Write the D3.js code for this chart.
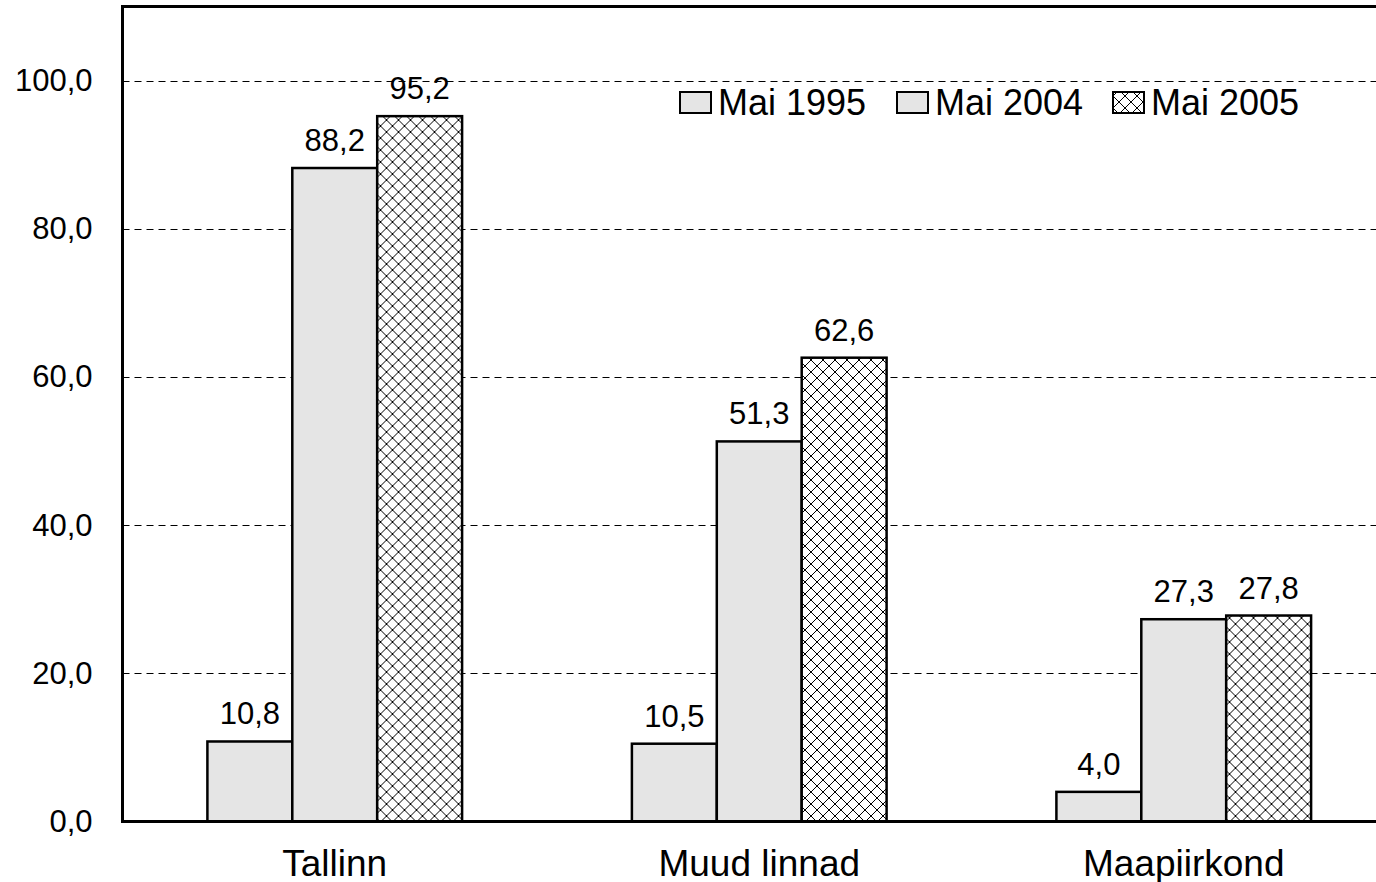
<!DOCTYPE html>
<html lang="et">
<head>
<meta charset="UTF-8">
<title>Mai 1995 / 2004 / 2005</title>
<script src="https://d3js.org/d3.v7.min.js"></script>
<style>
  html, body { margin: 0; padding: 0; background: #fff; overflow: hidden; }
  svg { display: block; font-family: Arial, "Liberation Sans", sans-serif; }
  .grid line { stroke: #000; stroke-width: 1; stroke-dasharray: 7 5; }
  .bar { stroke: #000; stroke-width: 2.5; }
  .frame { stroke: #000; stroke-width: 3; fill: none; }
</style>
</head>
<body>
<svg id="chart" width="1376" height="882"></svg>
<script>
// --- data ---
const categories = ["Tallinn", "Muud linnad", "Maapiirkond"];
const series = ["Mai 1995", "Mai 2004", "Mai 2005"];
const values1995 = [10.8, 10.5, 4.0];
const values2004 = [88.2, 51.3, 27.3];
const values2005 = [95.2, 62.6, 27.8];
const yTicks = [0, 20, 40, 60, 80, 100];

const seriesValues = [values1995, values2004, values2005];
const rows = categories.map((c, i) => ({
  cat: c,
  vals: series.map((s, j) => ({ key: s, idx: j, value: seriesValues[j][i] }))
}));

// --- layout ---
const W = 1376, H = 882;
const plotLeft = 122.5, plotRight = 1396, plotTop = 6.5, plotBottom = 821.5;

const svg = d3.select("#chart");
const defs = svg.append("defs");

// crosshatch for Mai 2005
const pat = defs.append("pattern")
  .attr("id", "hatch")
  .attr("patternUnits", "userSpaceOnUse")
  .attr("width", 12).attr("height", 12);
pat.append("rect").attr("width", 12).attr("height", 12).attr("fill", "#fff");
pat.append("path")
  .attr("d", "M0,0L12,12M12,0L0,12")
  .attr("stroke", "#000").attr("stroke-width", 1);

const fills = ["#e5e5e5", "#e5e5e5", "url(#hatch)"];

const x0 = d3.scaleBand().domain(categories).range([plotLeft, plotRight]);
const x1 = d3.scaleBand().domain(series).range([0, x0.bandwidth()])
  .paddingInner(0).paddingOuter(1);
const y = d3.scaleLinear().domain([0, 110]).range([plotBottom, plotTop]);

const fmt = d => d3.format(".1f")(d).replace(".", ",");

// gridlines
svg.append("g").attr("class", "grid")
  .selectAll("line")
  .data(yTicks.filter(t => t > 0))
  .join("line")
  .attr("x1", plotLeft).attr("x2", W)
  .attr("y1", d => Math.round(y(d)) + 0.5)
  .attr("y2", d => Math.round(y(d)) + 0.5);

// bars
const groups = svg.append("g").selectAll("g")
  .data(rows)
  .join("g")
  .attr("transform", d => `translate(${x0(d.cat)},0)`);

groups.selectAll("rect")
  .data(d => d.vals)
  .join("rect")
  .attr("class", "bar")
  .attr("x", d => x1(d.key))
  .attr("width", x1.bandwidth())
  .attr("y", d => y(d.value))
  .attr("height", d => y(0) - y(d.value))
  .attr("fill", d => fills[d.idx]);

groups.selectAll("text")
  .data(d => d.vals)
  .join("text")
  .attr("x", d => x1(d.key) + x1.bandwidth() / 2)
  .attr("y", d => y(d.value) - 17)
  .attr("text-anchor", "middle")
  .attr("font-size", 31)
  .text(d => fmt(d.value));

// frame (top, left, bottom)
svg.append("path").attr("class", "frame")
  .attr("d", `M${plotRight},${plotTop}H${plotLeft}V${plotBottom}H${plotRight}`);

// y axis labels
const yAxis = d3.axisLeft(y).tickValues(yTicks).tickSize(0).tickPadding(30)
  .tickFormat(fmt);
const ya = svg.append("g").attr("transform", `translate(${plotLeft},0)`).call(yAxis);
ya.select(".domain").remove();
ya.selectAll("text").attr("font-size", 31).attr("fill", "#000")
  .attr("font-family", "Arial, 'Liberation Sans', sans-serif");

// x axis labels
const xAxis = d3.axisBottom(x0).tickSize(0).tickPadding(0);
const xa = svg.append("g").attr("transform", `translate(0,${plotBottom})`).call(xAxis);
xa.select(".domain").remove();
xa.selectAll("text").attr("font-size", 37).attr("fill", "#000")
  .attr("dy", null).attr("y", 54)
  .attr("font-family", "Arial, 'Liberation Sans', sans-serif");

// legend
const legendX = [680, 897, 1113];
const legend = svg.append("g").selectAll("g")
  .data(series)
  .join("g")
  .attr("transform", (d, i) => `translate(${legendX[i]},0)`);
legend.append("rect")
  .attr("x", 0).attr("y", 92).attr("width", 31).attr("height", 21)
  .attr("fill", (d, i) => fills[i])
  .attr("stroke", "#000").attr("stroke-width", 2);
legend.append("text")
  .attr("x", 38).attr("y", 115)
  .attr("font-size", 36)
  .text(d => d);
</script>
</body>
</html>
